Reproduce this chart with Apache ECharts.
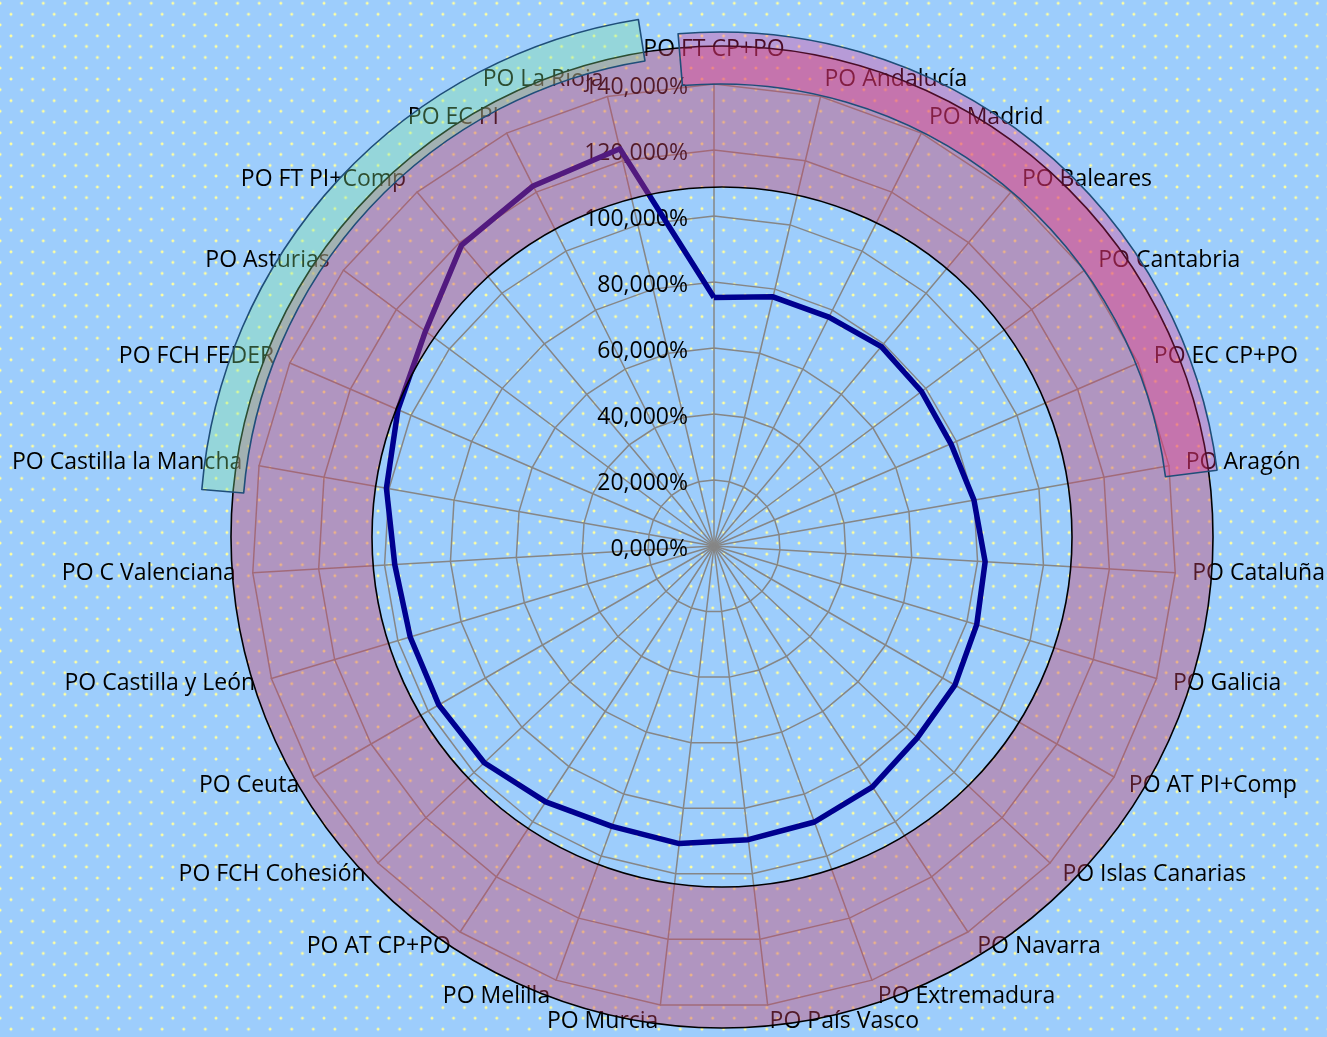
<!DOCTYPE html>
<html>
<head>
<meta charset="utf-8">
<script src="https://cdn.jsdelivr.net/npm/echarts@6/dist/echarts.min.js"></script>
<style>
html,body{margin:0;padding:0;width:1327px;height:1037px;overflow:hidden;}
body{
  background-color:#9dcdfc;
  background-image:
    radial-gradient(circle at center,#ffffa0 0,#ffffa0 0.8px,rgba(255,255,160,0.45) 1.4px,rgba(255,255,160,0) 2px),
    radial-gradient(circle at center,#ffffa0 0,#ffffa0 0.8px,rgba(255,255,160,0.45) 1.4px,rgba(255,255,160,0) 2px);
  background-size:21.6px 21.6px,21.6px 21.6px;
  background-position:-10.7px -7.5px,0.2px 3.5px;
}
#chart{width:1327px;height:1037px;}
</style>
</head>
<body>
<div id="chart"></div>
<script>
// Categories in clockwise order starting at the top
const categories = [
  'PO FT CP+PO','PO Andalucía','PO Madrid','PO Baleares','PO Cantabria','PO EC CP+PO','PO Aragón',
  'PO Cataluña','PO Galicia','PO AT PI+Comp','PO Islas Canarias','PO Navarra','PO Extremadura',
  'PO País Vasco','PO Murcia','PO Melilla','PO AT CP+PO','PO FCH Cohesión','PO Ceuta',
  'PO Castilla y León','PO C Valenciana','PO Castilla la Mancha','PO FCH FEDER','PO Asturias',
  'PO FT PI+Comp','PO EC PI','PO La Rioja'
];
// Values in percent
const values = [
  75.3, 77.6, 77.6, 78.9, 78.4, 78.2, 80.0,
  82.3, 83.1, 84.3, 84.7, 87.4, 89.0,
  89.6, 90.8, 90.4, 92.8, 95.7, 96.3,
  96.1, 96.9, 100.8, 104.3, 109.0,
  119.0, 122.1, 123.7
];
const axisMin = 0;
const axisMax = 140;
const axisSplits = 7;
// Highlighted groups (first and last category of each)
const pinkGroup = ['PO FT CP+PO', 'PO Aragón'];
const greenGroup = ['PO Castilla la Mancha', 'PO La Rioja'];

const n = categories.length;
const step = 360 / n;
// ECharts radar runs counter-clockwise; reorder so the picture runs clockwise
const order = categories.map((_, i) => (n - i) % n);

const fmt = v => Number(v).toFixed(3).replace('.', ',') + '%';
const FONT = 'Open Sans';
const FS = 23;

function sector(group, padStart, padEnd, center, radius, color, z) {
  const i0 = categories.indexOf(group[0]);
  const i1 = categories.indexOf(group[1]);
  const a0 = i0 * step - padStart;
  const a1 = i1 * step + padEnd;
  const span = a1 - a0;
  return {
    type: 'pie', silent: true, z: z, animation: false,
    center: center, radius: radius, startAngle: 90 - a0, clockwise: true,
    label: {show: false}, labelLine: {show: false},
    emphasis: {disabled: true},
    data: [
      {value: span, itemStyle: {color: color, borderColor: '#1f4e79', borderWidth: 1.6}},
      {value: 360 - span, itemStyle: {color: 'rgba(0,0,0,0)', borderWidth: 0}}
    ]
  };
}

const chart = echarts.init(document.getElementById('chart'), null, {renderer: 'canvas'});
chart.setOption({
  backgroundColor: 'transparent',
  animation: false,
  radar: {
    center: [714, 546],
    radius: 462,
    startAngle: 90,
    splitNumber: axisSplits,
    shape: 'polygon',
    nameGap: 17,
    axisName: {
      color: '#000', fontSize: FS, fontFamily: FONT,
      formatter: name => name === categories[0] ? '{top|' + name + '}' : name,
      rich: {top: {color: '#000', fontSize: FS, fontFamily: FONT, padding: [0, 0, 6, 0]}}
    },
    axisLine: {show: true, lineStyle: {color: '#868686', width: 1.5}},
    splitLine: {show: true, lineStyle: {color: '#868686', width: 1.5}},
    splitArea: {show: false},
    axisTick: {show: false},
    axisLabel: {
      show: false, color: '#000', fontSize: FS, fontFamily: FONT, margin: 26,
      formatter: v => '{t|' + fmt(v) + '}',
      rich: {t: {color: '#000', fontSize: FS, fontFamily: FONT, padding: [7, 0, 0, 0]}}
    },
    indicator: order.map((k, j) => {
      const ind = {name: categories[k], min: axisMin, max: axisMax};
      if (j === 0) ind.axisLabel = {show: true};
      return ind;
    })
  },
  series: [
    {
      type: 'radar', z: 1, silent: true,
      symbol: 'none',
      data: [{
        value: order.map(k => values[k]),
        lineStyle: {color: '#00008f', width: 5.5},
        itemStyle: {color: '#00008f'}
      }]
    },
    {
      type: 'pie', silent: true, z: 5, animation: false,
      center: [722, 537], radius: [350, 491],
      label: {show: false}, labelLine: {show: false},
      emphasis: {disabled: true},
      data: [{value: 1, itemStyle: {color: 'rgba(206,66,102,0.4)', borderColor: '#000', borderWidth: 1.6}}]
    },
    sector(pinkGroup, 4.8, 2.8, [720, 533], [449, 501], 'rgba(245,40,130,0.3)', 6),
    sector(greenGroup, 5.2, 4.3, [720, 533], [478, 520], 'rgba(135,235,150,0.33)', 6)
  ]
});
</script>
</body>
</html>
